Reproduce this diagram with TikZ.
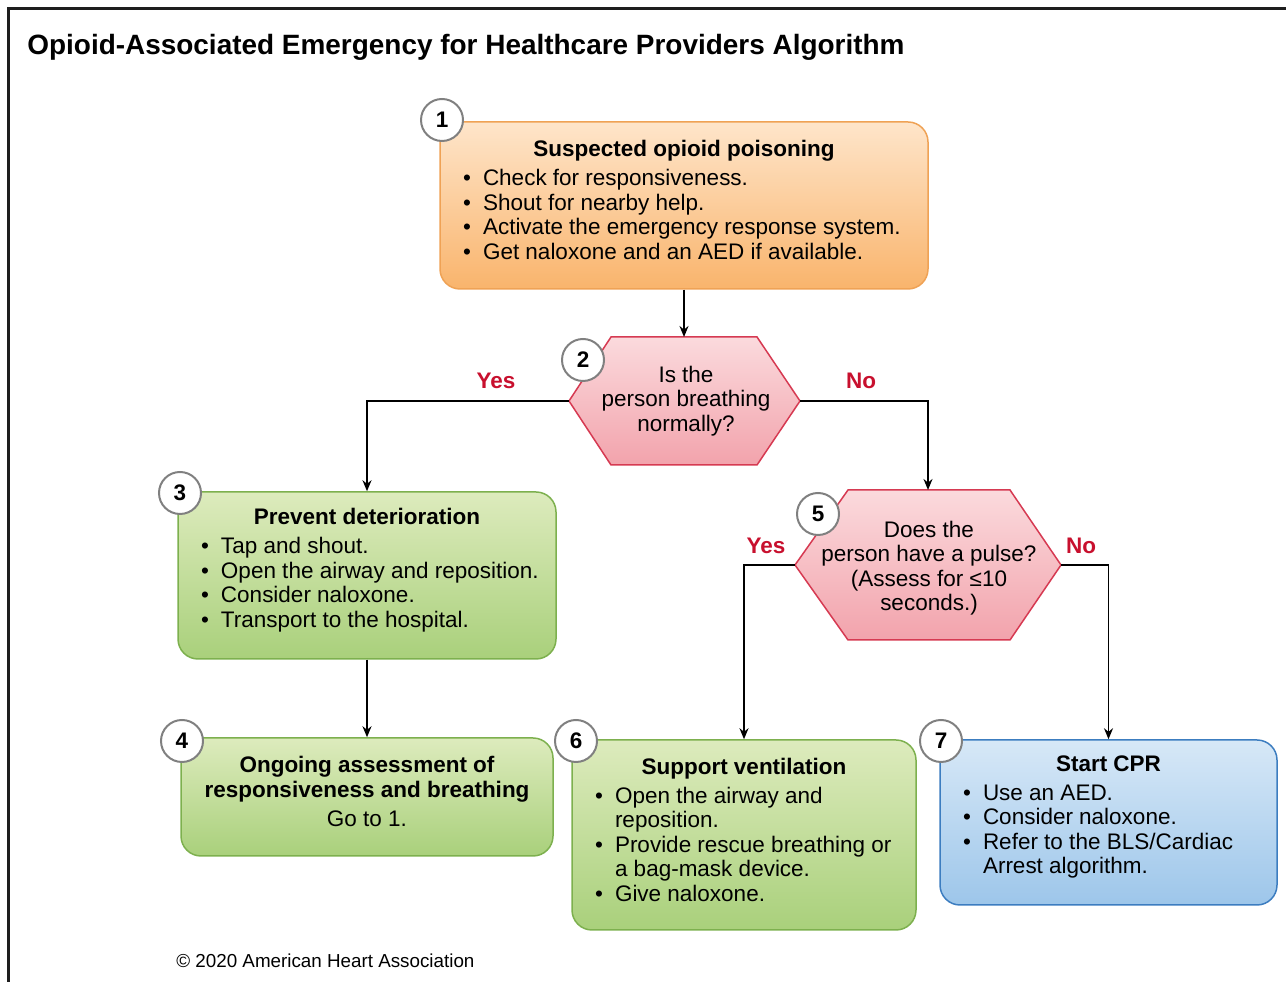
\documentclass[tikz,border=0pt]{standalone}
\usepackage{fontspec}
\setmainfont{Liberation Sans}
\usetikzlibrary{arrows.meta}

\definecolor{frameline}{HTML}{1E1E1E}
\definecolor{orangetop}{HTML}{FEE5CA}
\definecolor{orangebot}{HTML}{F9B46C}
\definecolor{orangeline}{HTML}{EFA255}
\definecolor{greentop}{HTML}{DDEBBD}
\definecolor{greenbot}{HTML}{A9D07B}
\definecolor{greenline}{HTML}{7DB04E}
\definecolor{pinktop}{HTML}{FBDADD}
\definecolor{pinkbot}{HTML}{F2A3AC}
\definecolor{pinkline}{HTML}{D63A52}
\definecolor{bluetop}{HTML}{D7E8F7}
\definecolor{bluebot}{HTML}{9DC6EA}
\definecolor{blueline}{HTML}{3C7DC0}
\definecolor{answerred}{HTML}{C8102E}
\definecolor{circleline}{HTML}{808080}

% one bullet line, and a line that goes on under it
\newcommand{\bitem}[1]{\par\noindent\makebox[0.40cm][l]{\textbullet}\mbox{#1}}
\newcommand{\bmore}[1]{\par\noindent\hspace*{0.40cm}\mbox{#1}}
\newcommand{\boxend}{\par\vspace{0.22cm}\hrule height0pt width0pt}

\begin{document}
\begin{tikzpicture}[
    stepbox/.style={rounded corners=0.4cm, line width=0.03cm, inner sep=0pt},
    orangebox/.style={stepbox, draw=orangeline, top color=orangetop, bottom color=orangebot},
    greenbox/.style={stepbox, draw=greenline, top color=greentop, bottom color=greenbot},
    bluebox/.style={stepbox, draw=blueline, top color=bluetop, bottom color=bluebot},
    pinkhex/.style={line width=0.03cm, draw=pinkline, top color=pinktop, bottom color=pinkbot},
    numcircle/.style={circle, draw=circleline, fill=white, line width=0.04cm, minimum size=0.84cm, inner sep=0pt, font=\bfseries},
    answer/.style={text=answerred, font=\bfseries},
    link/.style={line width=0.035cm, -{Stealth[length=0.22cm,width=0.18cm]}}
  ]
  \useasboundingbox (0,0) rectangle (25.720000,19.640000);
  {\fontsize{12.8pt}{13.94pt}\selectfont

  % Drawing frame
  \draw [line width=0.06cm, frameline] (0.160000,0.000000) -- (0.160000,19.460000) -- (25.720000,19.460000);%

  % Drawing title
  \node [anchor=west, inner sep=0pt, font=\fontsize{15.9pt}{18pt}\selectfont\bfseries] (title) at (0.540000,18.700000) {Opioid-Associated Emergency for Healthcare Providers Algorithm};%

  % Drawing box 1
  \node [orangebox, minimum width=9.76cm, minimum height=3.34cm] (poison) at (13.680000,15.530000) {\begin{minipage}{8.84cm}{\centering\bfseries Suspected opioid poisoning\par}\vspace{2.6pt}\bitem{Check for responsiveness.}\bitem{Shout for nearby help.}\bitem{Activate the emergency response system.}\bitem{Get naloxone and an AED if available.}\boxend\end{minipage}};%

  % Drawing hexagon 2
  \draw [pinkhex] (11.380000,11.620000) coordinate (breathW) -- (12.220000,12.900000) -- (15.140000,12.900000) -- (16.000000,11.620000) coordinate (breathE) -- (15.140000,10.340000) -- (12.220000,10.340000) -- cycle;%
  \coordinate (breathN) at (13.680000,12.900000);%
  \node [align=center] (breath) at (13.720000,11.620000) {Is the\\person breathing\\normally?};%

  % Drawing box 3
  \node [greenbox, minimum width=7.56cm, minimum height=3.34cm] (prevent) at (7.340000,8.130000) {\begin{minipage}{6.64cm}{\centering\bfseries Prevent deterioration\par}\vspace{2.6pt}\bitem{Tap and shout.}\bitem{Open the airway and reposition.}\bitem{Consider naloxone.}\bitem{Transport to the hospital.}\boxend\end{minipage}};%

  % Drawing box 4
  \node [greenbox, minimum width=7.44cm, minimum height=2.36cm] (ongoing) at (7.340000,3.700000) {\begin{minipage}{7.20cm}{\centering\bfseries Ongoing assessment of\\responsiveness and breathing\par}\vspace{2.6pt}{\centering Go to 1.\par}\boxend\end{minipage}};%

  % Drawing hexagon 5
  \draw [pinkhex] (15.900000,8.340000) coordinate (pulseW) -- (16.960000,9.840000) -- (20.200000,9.840000) -- (21.220000,8.340000) coordinate (pulseE) -- (20.200000,6.840000) -- (16.960000,6.840000) -- cycle;%
  \coordinate (pulseN) at (18.560000,9.840000);%
  \node [align=center] (pulse) at (18.580000,8.280000) {Does the\\person have a pulse?\\(Assess for ≤10\\seconds.)};%

  % Drawing box 6
  \node [greenbox, minimum width=6.88cm, minimum height=3.80cm] (ventil) at (14.880000,2.940000) {\begin{minipage}{5.96cm}{\centering\bfseries Support ventilation\par}\vspace{2.6pt}\bitem{Open the airway and}\bmore{reposition.}\bitem{Provide rescue breathing or}\bmore{a bag-mask device.}\bitem{Give naloxone.}\boxend\end{minipage}};%

  % Drawing box 7
  \node [bluebox, minimum width=6.74cm, minimum height=3.30cm] (cpr) at (22.170000,3.190000) {\begin{minipage}{5.82cm}{\centering\bfseries Start CPR\par}\vspace{2.6pt}\bitem{Use an AED.}\bitem{Consider naloxone.}\bitem{Refer to the BLS/Cardiac}\bmore{Arrest algorithm.}\boxend\end{minipage}};%

  % Drawing links
  \draw [link] (poison.south) -- (breathN);%
  \draw [link] (breathW) -| (prevent.north);%
  \draw [link] (breathE) -| (pulseN);%
  \draw [link] (prevent.south) -- (ongoing.north);%
  \draw [link] (pulseW) -| (ventil.north);%
  \draw [link] (pulseE) -| (cpr.north);%

  % Marking answers
  \node [answer] (yesbreath) at (9.920000,12.020000) {Yes};%
  \node [answer] (nobreath) at (17.220000,12.020000) {No};%
  \node [answer] (yespulse) at (15.320000,8.720000) {Yes};%
  \node [answer] (nopulse) at (21.620000,8.720000) {No};%

  % Marking steps by circle
  \node [numcircle] (n1) at (8.840000,17.240000) {1};%
  \node [numcircle] (n2) at (11.660000,12.440000) {2};%
  \node [numcircle] (n3) at (3.600000,9.780000) {3};%
  \node [numcircle] (n4) at (3.640000,4.820000) {4};%
  \node [numcircle] (n5) at (16.360000,9.360000) {5};%
  \node [numcircle] (n6) at (11.520000,4.820000) {6};%
  \node [numcircle] (n7) at (18.820000,4.820000) {7};%

  % Drawing copyright
  \node [anchor=west, inner sep=0pt, font=\fontsize{10.7pt}{12pt}\selectfont] (copy) at (3.520000,0.420000) {© 2020 American Heart Association};%
  }
\end{tikzpicture}
\end{document}
